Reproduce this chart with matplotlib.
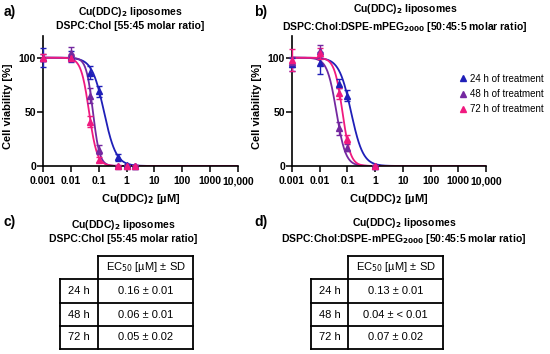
import numpy as np
import matplotlib
matplotlib.use("Agg")
import matplotlib.pyplot as plt
from matplotlib.lines import Line2D

plt.rcParams['font.family'] = ['Liberation Sans', 'DejaVu Sans']

# --- data ---
conc_a = [0.001, 0.01, 0.05, 0.1, 0.5, 1, 2]
a_24 = [100, 101, 86, 69, 8, 1, 0]
a_24_err = [9, 5, 6, 5, 3, 1, 1]
a_48 = [100, 104, 65, 15, 0, 0, 0]
a_48_err = [3, 6, 7, 4, 1, 1, 1]
a_72 = [100, 100, 41, 6, 0, 0, 0]
a_72_err = [3, 3, 5, 2, 1, 1, 1]

conc_b = [0.001, 0.01, 0.05, 0.1, 1]
b_24 = [94, 95, 76, 65, 0]
b_24_err = [6, 10, 4, 5, 1]
b_48 = [96, 106, 35, 17, 0]
b_48_err = [5, 6, 6, 3, 1]
b_72 = [98, 104, 67, 25, 0]
b_72_err = [10, 5, 5, 4, 1]

# fitted dose-response parameters (EC50 [uM], hill slope)
fit_a = [(0.155, 2.0), (0.062, 3.6), (0.045, 3.0)]
fit_b = [(0.135, 2.0), (0.040, 2.6), (0.066, 3.0)]

labels = ["24 h of treatment", "48 h of treatment", "72 h of treatment"]
colors = ["#1f1fb8", "#7428a0", "#f0197f"]

xticks = [0.001, 0.01, 0.1, 1, 10, 100, 1000, 10000]
xticklabels = ["0.001", "0.01", "0.1", "1", "10", "100", "1000", "10,000"]

rows = ["24 h", "48 h", "72 h"]
ec50_c = ["0.16 ± 0.01", "0.06 ± 0.01", "0.05 ± 0.02"]
ec50_d = ["0.13 ± 0.01", "0.04 ± < 0.01", "0.07 ± 0.02"]

title_c = "Cu(DDC)$_\\mathbf{2}$ liposomes\nDSPC:Chol [55:45 molar ratio]"
title_d = "Cu(DDC)$_\\mathbf{2}$ liposomes\nDSPC:Chol:DSPE-mPEG$_\\mathbf{2000}$ [50:45:5 molar ratio]"

W, H = 550, 354
fig = plt.figure(figsize=(5.5, 3.54), dpi=100)


def fx(px):
    return px / W


def fy(py):
    return 1 - py / H


def dose_panel(ax, conc, series, errs, fits):
    xx = np.logspace(-3, 4, 400)
    for ys, es, (ec, h), c in zip(series, errs, fits, colors):
        ax.plot(xx, 100 / (1 + (xx / ec) ** h), color=c, lw=1.3)
        ax.errorbar(conc, ys, yerr=es, fmt='^', color=c, ms=4, capsize=2.5,
                    elinewidth=1, capthick=1, clip_on=False, zorder=3)
    ax.set_xscale('log')
    ax.set_xlim(0.001, 10000)
    ax.set_ylim(0, 120)
    ax.set_yticks([0, 50, 100])
    ax.set_xticks(xticks)
    ax.set_xticklabels(xticklabels)
    ax.xaxis.set_minor_locator(matplotlib.ticker.LogLocator(subs=np.arange(2, 10)))
    ax.xaxis.set_minor_formatter(matplotlib.ticker.NullFormatter())
    for s in ['top', 'right']:
        ax.spines[s].set_visible(False)
    for s in ['left', 'bottom']:
        ax.spines[s].set_linewidth(1.2)
    ax.tick_params(axis='both', which='major', length=4, width=1.1, labelsize=7.5)
    ax.tick_params(axis='y', which='major', pad=1)
    ax.tick_params(axis='x', which='minor', length=2.5, width=0.8)
    for t in ax.get_xticklabels() + ax.get_yticklabels():
        t.set_fontweight('bold')
    ax.set_ylabel("Cell viability [%]", fontsize=8, fontweight='bold')
    ax.yaxis.set_label_coords(-0.155, 0.46)
    ax.set_xlabel("Cu(DDC)$_\\mathbf{2}$ [µM]", fontsize=8, fontweight='bold', labelpad=4)


ax_a = fig.add_axes([fx(43), fy(166), fx(238 - 43), (166 - 36) / H])
dose_panel(ax_a, conc_a, [a_24, a_48, a_72], [a_24_err, a_48_err, a_72_err], fit_a)

ax_b = fig.add_axes([fx(292), fy(166), fx(486 - 292), (166 - 36) / H])
dose_panel(ax_b, conc_b, [b_24, b_48, b_72], [b_24_err, b_48_err, b_72_err], fit_b)

handles = [Line2D([], [], marker='^', color=c, ls='none', ms=5) for c in colors]
ax_b.legend(handles, labels, loc='upper left', bbox_to_anchor=(0.83, 0.74),
            frameon=False, fontsize=7, handletextpad=0.1, handlelength=1.2,
            labelspacing=0.55, borderaxespad=0)

# panel letters
for lab, x, y in [("a)", 4, 12), ("b)", 254, 12), ("c)", 4, 222), ("d)", 254, 222)]:
    fig.text(fx(x), fy(y), lab, fontsize=10, fontweight='bold', va='center', ha='left')

# titles
for title, x, y in [(title_c, 130, 18), (title_d, 405, 18),
                    (title_c, 123, 231), (title_d, 404, 231)]:
    fig.text(fx(x), fy(y), title, fontsize=7.5, fontweight='bold', ha='center',
             va='center', linespacing=1.3)


def draw_table(x0, x1, x2, row_y, values):
    lw = 1.3
    top, hdr = row_y[0], row_y[1]
    bottom = row_y[-1]

    def line(xs, ys):
        fig.add_artist(Line2D([fx(v) for v in xs], [fy(v) for v in ys],
                              color='black', lw=lw, solid_capstyle='projecting'))

    line([x1, x2], [top, top])
    line([x1, x1], [top, bottom])
    line([x2, x2], [top, bottom])
    line([x0, x0], [hdr, bottom])
    for y in row_y[1:]:
        line([x0, x2], [y, y])
    fig.text(fx((x1 + x2) / 2), fy((top + hdr) / 2), "EC$_{50}$ [µM] ± SD",
             fontsize=8, ha='center', va='center')
    for i, (r, v) in enumerate(zip(rows, values)):
        yc = (row_y[i + 1] + row_y[i + 2]) / 2
        fig.text(fx((x0 + x1) / 2), fy(yc), r, fontsize=8, ha='center', va='center')
        fig.text(fx((x1 + x2) / 2), fy(yc), v, fontsize=8, ha='center', va='center')


draw_table(60, 98, 193, [256, 279, 303, 326, 349], ec50_c)
draw_table(311, 348, 443, [256, 279, 303, 326, 349], ec50_d)

fig.savefig("out.png", dpi=100)
